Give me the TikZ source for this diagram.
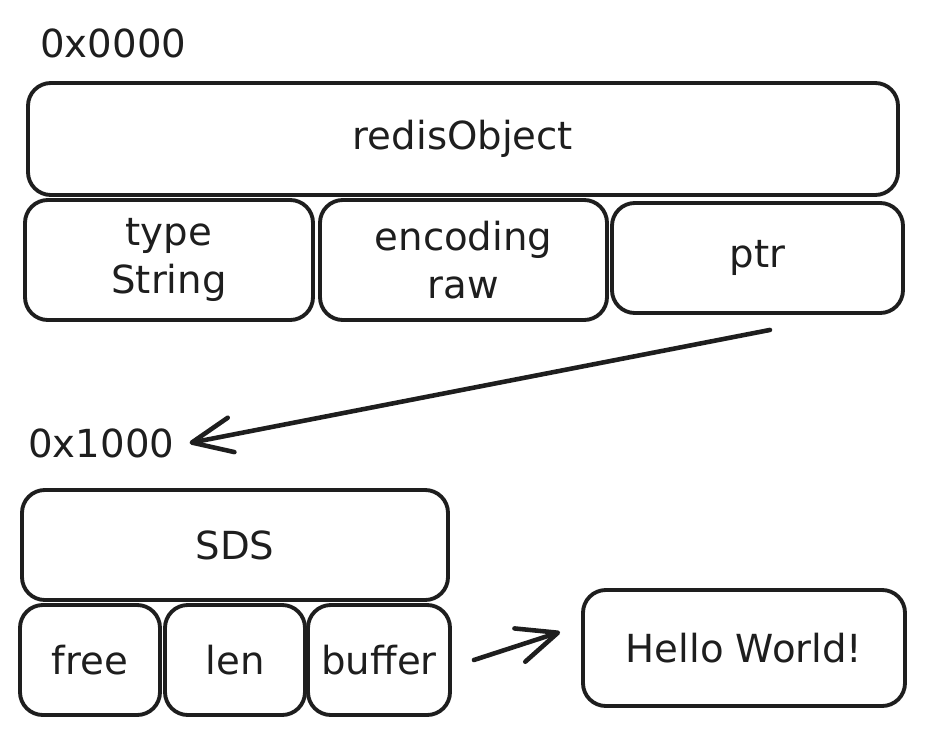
\documentclass[tikz,border=0pt]{standalone}
\usepackage{fontspec}
\setmainfont{DejaVu Sans}
\usetikzlibrary{arrows.meta,positioning}
\definecolor{inkcol}{RGB}{30,30,30}
\newcommand{\memfont}{\fontsize{22pt}{27pt}\selectfont}
\tikzset{
  % memory block
  mbox/.style={rectangle, rounded corners=13pt, draw=inkcol, line width=2.2pt, text=inkcol,
               minimum width=#1, minimum height=2.2cm, font=\memfont, align=center, inner sep=2pt},
  mbox/.default={2.8cm},
  % address label
  addrlabel/.style={anchor=west, font=\memfont, text=inkcol, inner sep=0pt},
  % pointer arrow
  ptrarrow/.style={-{Straight Barb[length=0.8cm,width=0.7cm,line cap=round,line join=round]},
                   line width=2.6pt, line cap=round, draw=inkcol},
}
\begin{document}
\begin{tikzpicture}
  \useasboundingbox (0,0) rectangle (18.52,-14.92);
  % redisObject at 0x0000
  \node[addrlabel] (addr0) at (0.8,-0.86) {0x0000};
  \node[mbox=17.4cm, minimum height=2.24cm] (obj) at (9.26,-2.78) {redisObject};
  \node[mbox=5.76cm, minimum height=2.4cm] (type) at (3.38,-5.2) {type\\String};
  \node[mbox=5.74cm, minimum height=2.4cm] (enc) at (9.27,-5.2) {encoding\\raw};
  \node[mbox=5.82cm] (ptr) at (15.15,-5.16) {ptr};
  % SDS at 0x1000
  \node[addrlabel] (addr1) at (0.56,-8.86) {0x1000};
  \node[mbox=8.52cm] (sds) at (4.7,-10.9) {SDS};
  \node[mbox] (free) at (1.8,-13.2) {free};
  \node[mbox] (len) at (4.7,-13.2) {len};
  \node[mbox=2.84cm] (buf) at (7.58,-13.2) {buffer};
  \node[mbox=6.44cm, minimum height=2.32cm] (hello) at (14.88,-12.96) {Hello World!};
  % pointers
  \draw[ptrarrow] ([xshift=0.25cm,yshift=-0.3cm]ptr.south) -- ([xshift=0.3cm]addr1.east);
  \draw[ptrarrow] ([xshift=0.44cm]buf.east) -- ([xshift=-0.42cm,yshift=0.32cm]hello.west);
\end{tikzpicture}
\end{document}
